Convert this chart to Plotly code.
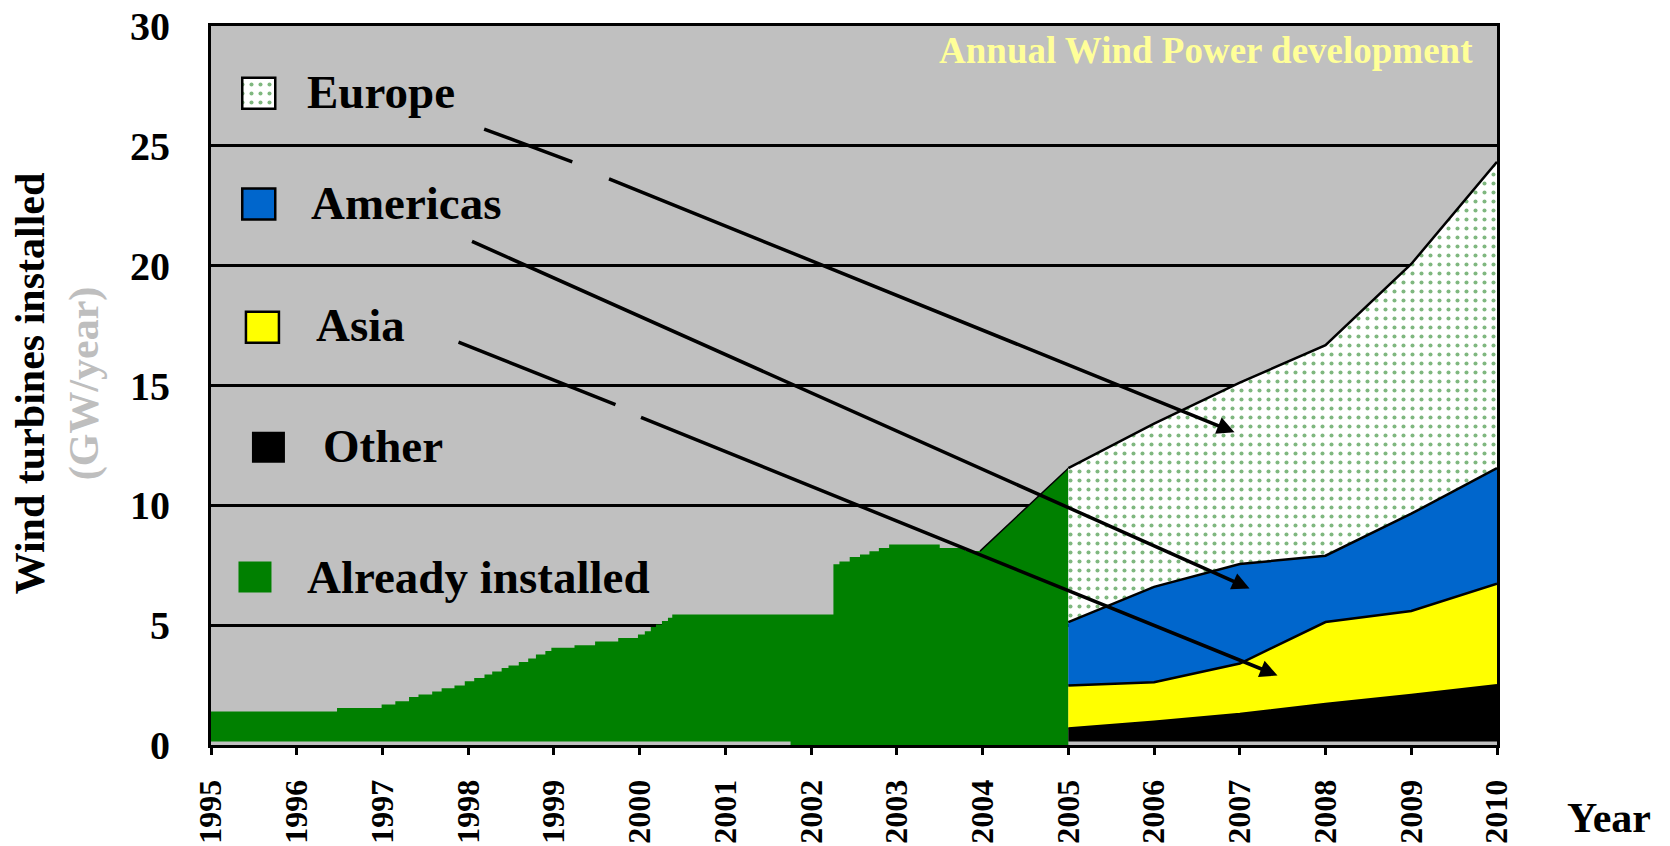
import plotly.graph_objects as go

FONT = "Liberation Serif"

# ---------------- data ----------------
# "Already installed" (GW/year): outline read as steps (start year, level), 1995-2004
green_step_years = [1995.00, 1996.47, 1996.99, 1997.15, 1997.31, 1997.42, 1997.58, 1997.69, 1997.84, 1997.96,
                    1998.07, 1998.19, 1998.28, 1998.39, 1998.47, 1998.59, 1998.70, 1998.79, 1998.90, 1998.97,
                    1999.24, 1999.48, 1999.75, 1999.98, 2000.06, 2000.13, 2000.19, 2000.26, 2000.33, 2000.38,
                    2002.26, 2002.33, 2002.45, 2002.57, 2002.68, 2002.79, 2002.91, 2003.50, 2003.80]
green_step_vals = [1.40, 1.54, 1.69, 1.83, 2.00, 2.11, 2.23, 2.37, 2.48, 2.66,
                   2.80, 2.94, 3.07, 3.21, 3.32, 3.46, 3.61, 3.78, 3.92, 4.06,
                   4.16, 4.32, 4.46, 4.61, 4.75, 4.92, 5.03, 5.17, 5.31, 5.45,
                   7.54, 7.66, 7.84, 7.95, 8.08, 8.22, 8.37, 8.22, 8.09]
# final rise of "Already installed" 2004 -> 2005
green_ramp_years = [2003.97, 2005.0]
green_ramp_vals = [8.09, 11.55]
# lower edge of the green area (thin grey strip above the axis)
green_base_years = [1995.0, 2001.76, 2001.76, 2005.0]
green_base_vals = [0.15, 0.15, 0.0, 0.0]

# Forecast 2005-2010 (GW/year), stacked
years_fc = [2005, 2006, 2007, 2008, 2009, 2010]
base_fc = [0.15, 0.15, 0.15, 0.15, 0.15, 0.15]
other_vals = [0.55, 0.83, 1.15, 1.57, 1.95, 2.35]
asia_vals = [1.78, 1.64, 2.10, 3.41, 3.49, 4.23]
americas_vals = [2.65, 3.98, 4.15, 2.77, 4.06, 4.82]
europe_vals = [6.42, 6.81, 7.57, 8.78, 10.42, 12.78]

x_ticks = list(range(1995, 2011))
y_ticks = [0, 5, 10, 15, 20, 25, 30]

# legend (drawn inside the plot)
legend_labels = ["Europe", "Americas", "Asia", "Other", "Already installed"]
legend_colors = ["white", "#0066CC", "#FFFF00", "#000000", "#008000"]
legend_border = [True, True, True, False, False]
legend_swatch_x = [1995.557, 1995.557, 1995.60, 1995.67, 1995.513]
legend_swatch_y = [27.19, 22.57, 17.43, 12.42, 7.01]
legend_text_x = [1996.10, 1996.14, 1996.20, 1996.28, 1996.10]
legend_text_y = [27.24, 22.63, 17.54, 12.46, 6.99]

# arrows (tail -> head), data coordinates
arrow_tail_x = [1999.625, 1998.027, 1999.998]
arrow_tail_y = [23.65, 21.04, 13.70]
arrow_head_x = [2006.939, 2007.114, 2007.440]
arrow_head_y = [13.05, 6.53, 2.90]
# loose first pieces of two of the arrows
piece_x0 = [1998.186, 1997.887]
piece_y0 = [25.70, 16.81]
piece_x1 = [1999.214, 1999.718]
piece_y1 = [24.33, 14.20]

# ---------------- layout geometry ----------------
W, H = 1670, 846
ML, MR, MT, MB = 211, 173, 26, 101
X0, X1 = 1995, 2010
Y0, Y1 = 0, 30
px_per_year = (W - ML - MR) / (X1 - X0)
px_per_val = (H - MT - MB) / (Y1 - Y0)

fig = go.Figure()

# green area: build stepped outline from the read steps
gx, gy = [], []
for i, (sx, sv) in enumerate(zip(green_step_years, green_step_vals)):
    nx = green_step_years[i + 1] if i + 1 < len(green_step_years) else green_ramp_years[0]
    gx += [sx, nx]
    gy += [sv, sv]
gx += green_ramp_years
gy += green_ramp_vals

fig.add_trace(go.Scatter(x=green_base_years, y=green_base_vals, mode="lines",
                         line=dict(width=0), hoverinfo="skip", showlegend=False))
fig.add_trace(go.Scatter(x=gx, y=gy, mode="lines", fill="tonexty", fillcolor="#008000",
                         line=dict(width=0), name="Already installed", showlegend=False))
fig.add_trace(go.Scatter(x=green_ramp_years, y=green_ramp_vals, mode="lines",
                         line=dict(color="black", width=1.5), hoverinfo="skip", showlegend=False))

PATTERN = dict(shape=".", fgcolor="#007000", bgcolor="white", size=9, solidity=0.16)

# stacked forecast
fig.add_trace(go.Scatter(x=years_fc, y=base_fc, mode="lines", stackgroup="fc", fill="none",
                         line=dict(width=0), hoverinfo="skip", showlegend=False))
fig.add_trace(go.Scatter(x=years_fc, y=other_vals, mode="lines", stackgroup="fc", fill="tonexty",
                         fillcolor="#000000", line=dict(color="black", width=2), name="Other",
                         showlegend=False))
fig.add_trace(go.Scatter(x=years_fc, y=asia_vals, mode="lines", stackgroup="fc", fill="tonexty",
                         fillcolor="#FFFF00", line=dict(color="black", width=2.5), name="Asia",
                         showlegend=False))
fig.add_trace(go.Scatter(x=years_fc, y=americas_vals, mode="lines", stackgroup="fc", fill="tonexty",
                         fillcolor="#0066CC", line=dict(color="black", width=2.5), name="Americas",
                         showlegend=False))
fig.add_trace(go.Scatter(x=years_fc, y=europe_vals, mode="lines", stackgroup="fc", fill="tonexty",
                         fillcolor="white", fillpattern=PATTERN,
                         line=dict(color="black", width=2.5), name="Europe", showlegend=False))

# legend swatches
shapes = []
annotations = []
SW, SH = 33, 31
for i, lab in enumerate(legend_labels):
    cx, cy = legend_swatch_x[i], legend_swatch_y[i]
    if lab == "Europe":
        dx = SW / 2 / px_per_year
        dy = SH / 2 / px_per_val
        fig.add_trace(go.Scatter(x=[cx - dx, cx + dx, cx + dx, cx - dx, cx - dx],
                                 y=[cy - dy, cy - dy, cy + dy, cy + dy, cy - dy],
                                 mode="lines", fill="toself", fillcolor="white",
                                 fillpattern=PATTERN,
                                 line=dict(width=0), hoverinfo="skip", showlegend=False))
        fill = "rgba(0,0,0,0)"
    else:
        fill = legend_colors[i]
    shapes.append(dict(type="rect", xref="x", yref="y", xsizemode="pixel", ysizemode="pixel",
                       xanchor=cx, yanchor=cy, x0=-SW / 2, x1=SW / 2, y0=-SH / 2, y1=SH / 2,
                       fillcolor=fill,
                       line=dict(color="black", width=2.5 if legend_border[i] else 0)))
    annotations.append(dict(x=legend_text_x[i], y=legend_text_y[i], xref="x", yref="y",
                            text=lab, showarrow=False, xanchor="left", yanchor="middle",
                            font=dict(family=FONT, size=47, color="black", weight="bold")))

# arrows
for i in range(len(arrow_tail_x)):
    annotations.append(dict(x=arrow_head_x[i], y=arrow_head_y[i], ax=arrow_tail_x[i], ay=arrow_tail_y[i],
                            xref="x", yref="y", axref="x", ayref="y", text="", showarrow=True,
                            arrowhead=2, arrowsize=1.0, arrowwidth=3.5, arrowcolor="black", standoff=0))
for i in range(len(piece_x0)):
    shapes.append(dict(type="line", xref="x", yref="y", x0=piece_x0[i], y0=piece_y0[i],
                       x1=piece_x1[i], y1=piece_y1[i], line=dict(color="black", width=3.5)))

# title inside plot
annotations.append(dict(x=0.983, y=0.9666, xref="paper", yref="paper", xanchor="right", yanchor="middle",
                        text="Annual Wind Power development", showarrow=False,
                        font=dict(family=FONT, size=37, color="#FFFF99", weight="bold")))
# x axis title
annotations.append(dict(x=1.053, y=-0.101, xref="paper", yref="paper", xanchor="left", yanchor="middle",
                        text="Year", showarrow=False,
                        font=dict(family=FONT, size=42, color="black", weight="bold")))
# y axis title (two lines)
annotations.append(dict(x=-0.1190, y=0.503, xref="paper", yref="paper", xanchor="center", yanchor="middle",
                        textangle=-90, showarrow=False,
                        text="Wind turbines installed<br><span style='color:#BEBEBE'>(GW/year)</span>",
                        font=dict(family=FONT, size=42, color="black", weight="bold")))

fig.update_layout(
    width=W, height=H, autosize=False,
    margin=dict(l=ML, r=MR, t=MT, b=MB, pad=0, autoexpand=False),
    paper_bgcolor="white", plot_bgcolor="#C0C0C0",
    showlegend=False,
    shapes=shapes, annotations=annotations,
    xaxis=dict(range=[X0, X1], tickvals=x_ticks, ticktext=[str(v) for v in x_ticks],
               tickangle=-90, ticks="outside", ticklen=7, tickwidth=3, tickcolor="black",
               showgrid=False, zeroline=False, showline=True, linewidth=3, linecolor="black", mirror=True,
               tickfont=dict(family=FONT, size=32, color="black", weight="bold"),
               ticklabelstandoff=12, automargin=False),
    yaxis=dict(range=[Y0, Y1], tickvals=y_ticks, ticks="",
               showgrid=True, gridcolor="black", gridwidth=2.5, zeroline=False,
               showline=True, linewidth=3, linecolor="black", mirror=True,
               tickfont=dict(family=FONT, size=40, color="black", weight="bold"),
               ticklabelstandoff=30, automargin=False),
)

fig.write_html("out.html", config={"displayModeBar": False},
               post_script="document.body.style.margin='0';document.body.style.overflow='hidden';")
